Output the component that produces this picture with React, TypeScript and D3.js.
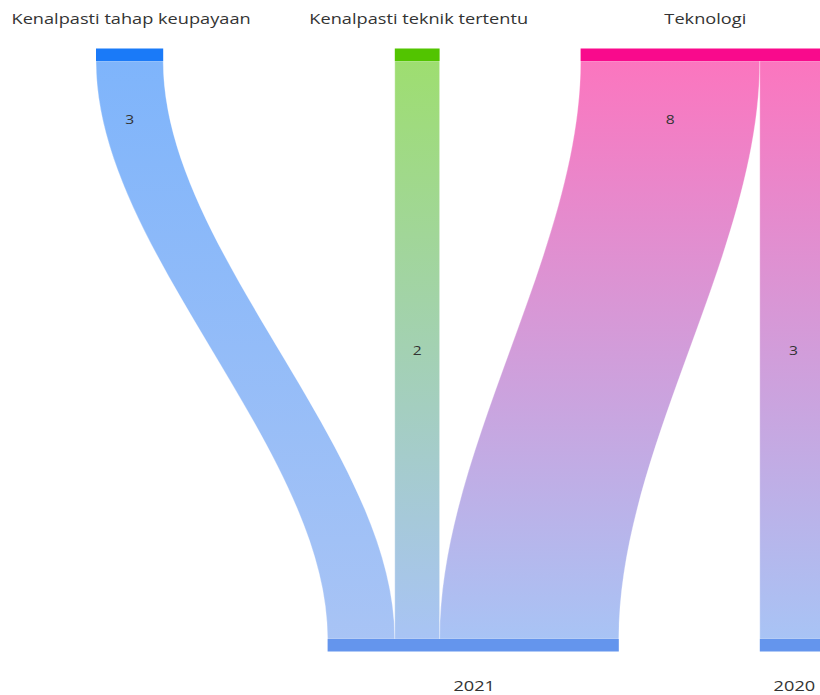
import { useMemo } from 'react';
import * as d3 from 'd3';

// source nodes (top row) and target nodes (bottom row)
const sources = ['Kenalpasti tahap keupayaan', 'Kenalpasti teknik tertentu', 'Teknologi'];
const targets = ['2021', '2020'];

// links: source index -> target index, value
const linkSource = [0, 1, 2, 2];
const linkTarget = [0, 0, 0, 1];
const linkValue = [3, 2, 8, 3];

const sourceColors = ['#1a7af8', '#52c400', '#f90a8c'];
const targetColors = ['#6495ed', '#6495ed'];

const width = 820;
const height = 695;
const extent = { left: 96, right: 827 };
const nodePad = 141;
const nodeThick = 12.5;
const topY = 48.5;
const bottomY = 639;
const curveness = 0.33;

type Node = { name: string; value: number; x0: number; x1: number; color: string };

export default function App() {
  const layout = useMemo(() => {
    const w = d3.scaleLinear().domain([0, 1]).range([0, 22.4]);

    const srcVal = sources.map((_, i) => d3.sum(linkValue.filter((_, j) => linkSource[j] === i)));
    const tgtVal = targets.map((_, i) => d3.sum(linkValue.filter((_, j) => linkTarget[j] === i)));

    // top row: first node sits on the left edge, the rest are packed from the right
    const top: Node[] = sources.map((name, i) => ({ name, value: srcVal[i], x0: 0, x1: 0, color: sourceColors[i] }));
    let edge = extent.right;
    for (let i = top.length - 1; i >= 1; i--) {
      top[i].x1 = edge;
      top[i].x0 = edge - w(top[i].value);
      edge = top[i].x0 - nodePad;
    }
    top[0].x0 = extent.left;
    top[0].x1 = extent.left + w(top[0].value);

    // bottom row: packed from the right
    const bottom: Node[] = targets.map((name, i) => ({ name, value: tgtVal[i], x0: 0, x1: 0, color: targetColors[i] }));
    edge = extent.right;
    for (let i = bottom.length - 1; i >= 0; i--) {
      bottom[i].x1 = edge;
      bottom[i].x0 = edge - w(bottom[i].value);
      edge = bottom[i].x0 - nodePad;
    }

    const y0 = topY + nodeThick;
    const y1 = bottomY;
    const ya = y0 + (y1 - y0) * curveness;
    const yb = y1 - (y1 - y0) * curveness;

    const srcOff = top.map((n) => n.x0);
    const tgtOff = bottom.map((n) => n.x0);

    // links ordered by target inside each source, by source inside each target
    const order = d3.range(linkValue.length);
    const bySrc = [...order].sort((a, b) => linkSource[a] - linkSource[b] || linkTarget[a] - linkTarget[b]);
    const byTgt = [...order].sort((a, b) => linkTarget[a] - linkTarget[b] || linkSource[a] - linkSource[b]);
    const sx = new Array(order.length).fill(0);
    const tx = new Array(order.length).fill(0);
    bySrc.forEach((j) => {
      sx[j] = srcOff[linkSource[j]];
      srcOff[linkSource[j]] += w(linkValue[j]);
    });
    byTgt.forEach((j) => {
      tx[j] = tgtOff[linkTarget[j]];
      tgtOff[linkTarget[j]] += w(linkValue[j]);
    });

    const links = order.map((j) => {
      const lw = w(linkValue[j]);
      const p = d3.path();
      p.moveTo(sx[j], y0);
      p.bezierCurveTo(sx[j], ya, tx[j], yb, tx[j], y1);
      p.lineTo(tx[j] + lw, y1);
      p.bezierCurveTo(tx[j] + lw, yb, sx[j] + lw, ya, sx[j] + lw, y0);
      p.closePath();
      const straight = Math.abs(sx[j] - tx[j]) < 1;
      return {
        d: p.toString(),
        value: linkValue[j],
        from: sourceColors[linkSource[j]],
        to: targetColors[linkTarget[j]],
        lx: sx[j] + lw / 2,
        ly: straight ? (y0 + y1) / 2 : y0 + (y1 - y0) * 0.1,
      };
    });

    return { top, bottom, links, y0, y1 };
  }, []);

  const font = '"Open Sans", "DejaVu Sans", sans-serif';

  return (
    <svg
      width={width}
      height={height}
      style={{ position: 'absolute', left: 0, top: 0, background: '#fff' }}
      fontFamily={font}
    >
      <defs>
        {layout.links.map((l, i) => (
          <linearGradient
            key={i}
            id={`lg${i}`}
            gradientUnits="userSpaceOnUse"
            x1={0}
            y1={layout.y0}
            x2={0}
            y2={layout.y1}
          >
            <stop offset="0%" stopColor={l.from} />
            <stop offset="100%" stopColor={l.to} />
          </linearGradient>
        ))}
      </defs>

      {layout.links.map((l, i) => (
        <path
          key={i}
          d={l.d}
          fill={`url(#lg${i})`}
          fillOpacity={0.56}
          stroke="#fff"
          strokeOpacity={0.5}
          strokeWidth={0.6}
        />
      ))}

      {layout.top.map((n) => (
        <rect key={n.name} x={n.x0} y={topY} width={n.x1 - n.x0} height={nodeThick} fill={n.color} />
      ))}
      {layout.bottom.map((n) => (
        <rect key={n.name} x={n.x0} y={bottomY} width={n.x1 - n.x0} height={nodeThick} fill={n.color} />
      ))}

      {layout.top.map((n) => (
        <text
          key={n.name}
          transform={`translate(${(n.x0 + n.x1) / 2 + 1.5},23.5) scale(1.3,1)`}
          textAnchor="middle"
          fontSize={14}
          fill="#333"
        >
          {n.name}
        </text>
      ))}
      {layout.bottom.map((n) => (
        <text
          key={n.name}
          transform={`translate(${(n.x0 + n.x1) / 2 + 1},690.5) scale(1.3,1)`}
          textAnchor="middle"
          fontSize={14}
          fill="#333"
        >
          {n.name}
        </text>
      ))}

      {layout.links.map((l, i) => (
        <text
          key={i}
          transform={`translate(${l.lx},${l.ly}) scale(1.2,1)`}
          textAnchor="middle"
          dominantBaseline="central"
          fontSize={13}
          fill="#333"
        >
          {l.value}
        </text>
      ))}
    </svg>
  );
}
